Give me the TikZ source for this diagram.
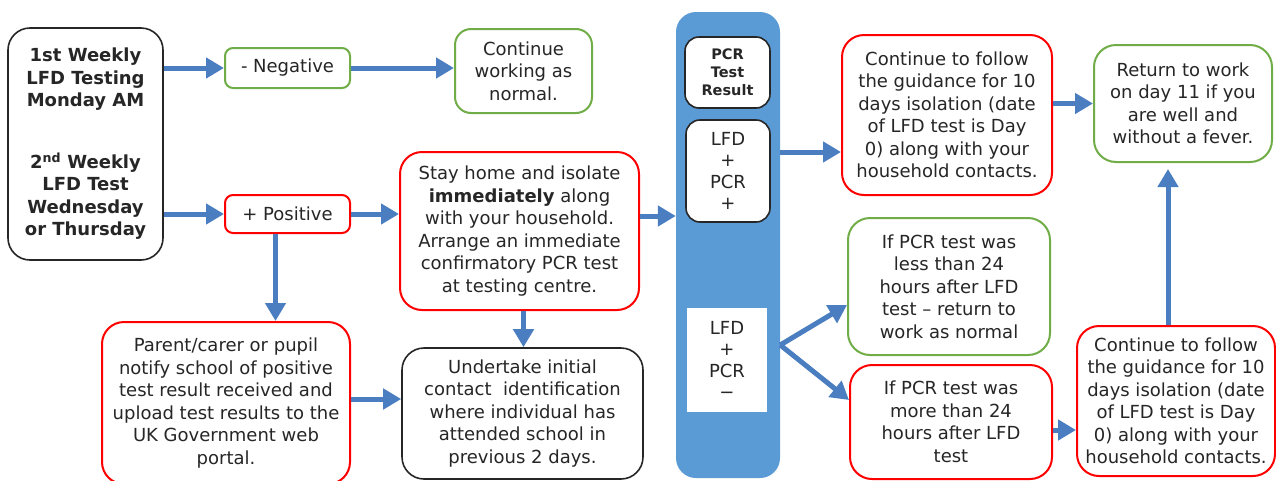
\documentclass[tikz,border=0pt]{standalone}
\usepackage{fontspec}
\setmainfont{DejaVu Sans}
\usetikzlibrary{arrows.meta}
\definecolor{flowblue}{RGB}{74,126,193}
\definecolor{colblue}{RGB}{91,155,213}
\definecolor{okgreen}{RGB}{112,173,71}
\definecolor{alertred}{RGB}{255,0,0}
\definecolor{inkgray}{RGB}{38,38,38}

\begin{document}
\begin{tikzpicture}[x=1pt, y=-1pt,
    nodes={align=center, font=\fontsize{18}{22.5}\selectfont, inner sep=0pt, text=inkgray},
    box/.style={draw, line width=2pt, rounded corners=22pt, fill=white},
    redbox/.style={box, draw=alertred},
    greenbox/.style={box, draw=okgreen},
    blackbox/.style={box, draw=black!85, line width=1.6pt},
    flow/.style={draw=flowblue, line width=5pt, -{Triangle[length=18pt, width=20pt]}}]
  \useasboundingbox (0,0) rectangle (1276,480);

  \node (start) [blackbox, minimum width=155pt, minimum height=232pt] at (85.5,144)
    {\textbf{1st Weekly}\\\textbf{LFD Testing}\\\textbf{Monday AM}\\[39pt]
     \textbf{2\textsuperscript{nd} Weekly}\\\textbf{LFD Test}\\\textbf{Wednesday}\\\textbf{or Thursday}};
  \node (neg) [greenbox, rounded corners=8pt, minimum width=125pt, minimum height=40pt] at (287.5,68) {- Negative};
  \node (pos) [redbox, rounded corners=8pt, minimum width=125pt, minimum height=38pt] at (287.5,214) {+ Positive};
  \node (work) [greenbox, rounded corners=16pt, minimum width=137pt, minimum height=84pt] at (523.5,71)
    {Continue\\working as\\normal.};
  \node (home) [redbox, minimum width=239pt, minimum height=158pt] at (519.5,231)
    {Stay home and isolate\\\textbf{immediately} along\\with your household.\\Arrange an immediate\\confirmatory PCR test\\at testing centre.};
  \node (parent) [redbox, minimum width=248pt, minimum height=162pt] at (226,403)
    {Parent/carer or pupil\\notify school of positive\\test result received and\\upload test results to the\\UK Government web\\portal.};
  \node (undert) [blackbox, minimum width=241pt, minimum height=131pt] at (522.5,413.5)
    {Undertake initial\\contact\ \ identification\\where individual has\\attended school in\\previous 2 days.};

  \node (col) [fill=colblue, rounded corners=20pt, minimum width=104pt, minimum height=466pt] at (728,245) {};
  \node (pcrres) [blackbox, rounded corners=14pt, minimum width=85pt, minimum height=71pt,
    font=\fontsize{14.5}{18}\selectfont\bfseries] at (727.5,72.5) {PCR\\Test\\Result};
  \node (lfdpos) [blackbox, rounded corners=14pt, minimum width=84pt, minimum height=102pt,
    font=\fontsize{18}{21.5}\selectfont] at (728,171) {LFD\\+\\PCR\\+};
  \node (lfdneg) [fill=white, minimum width=80pt, minimum height=104pt,
    font=\fontsize{18}{21.5}\selectfont] at (727,360) {LFD\\+\\PCR\\−};

  \node (follow) [redbox, minimum width=210pt, minimum height=160pt] at (947,115)
    {Continue to follow\\the guidance for 10\\days isolation (date\\of LFD test is Day\\0) along with your\\household contacts.};
  \node (ret) [greenbox, minimum width=178pt, minimum height=117pt] at (1183,103.5)
    {Return to work\\on day 11 if you\\are well and\\without a fever.};
  \node (less) [greenbox, minimum width=202pt, minimum height=137pt] at (949,286.5)
    {If PCR test was\\less than 24\\hours after LFD\\test – return to\\work as normal};
  \node (more) [redbox, minimum width=202pt, minimum height=114pt] at (951,422)
    {If PCR test was\\more than 24\\hours after LFD\\test};
  \node (follow2) [redbox, minimum width=198pt, minimum height=150pt] at (1176,401)
    {Continue to follow\\the guidance for 10\\days isolation (date\\of LFD test is Day\\0) along with your\\household contacts.};

  \draw [flow] (neg.west -| start.east) -- (neg.west);
  \draw [flow] (pos.west -| start.east) -- (pos.west);
  \draw [flow] (neg.east) -- (neg.east -| work.west);
  \draw [flow] (pos.east) -- (pos.east -| home.west);
  \draw [flow] ([xshift=-12pt]pos.south) -- ([xshift=-12pt]pos.south |- parent.north);
  \draw [flow] ([xshift=4pt]home.south) -- ([xshift=4pt]home.south |- undert.north);
  \draw [flow] ([yshift=4pt]parent.east) -- ([yshift=4pt]parent.east -| undert.west);
  \draw [flow] ([yshift=15pt]home.east) -- ([yshift=15pt]home.east -| col.west);
  \draw [flow] ([yshift=19pt]col.east |- lfdpos.center) -- ([yshift=19pt]follow.west |- lfdpos.center);
  \draw [flow] ([yshift=15pt]col.east |- lfdneg.center) -- ([yshift=-18.5pt]less.west);
  \draw [flow] ([yshift=15pt]col.east |- lfdneg.center) -- ([yshift=22pt]more.west);
  \draw [flow] (ret.west -| follow.east) -- (ret.west);
  \draw [flow] ([yshift=-8pt]more.east) -- ([yshift=-8pt]more.east -| follow2.west);
  \draw [flow] ([xshift=-8pt]follow2.north) -- ([xshift=-8pt,yshift=-6pt]follow2.north |- ret.south);
\end{tikzpicture}
\end{document}
